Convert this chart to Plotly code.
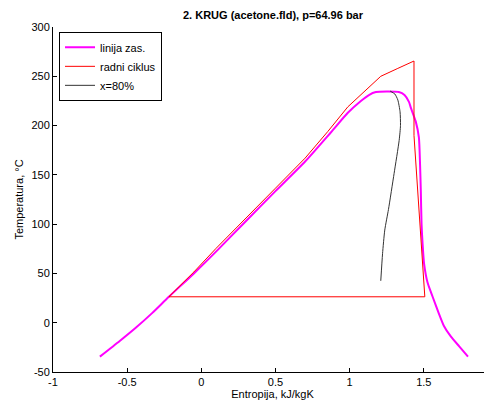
import plotly.graph_objects as go

# Saturation line (linija zas.) - liquid branch + vapour branch
sat_s = [-0.684, -0.55, -0.442, -0.33, -0.219, -0.05, 0.111, 0.3, 0.5, 0.7, 0.873, 0.988, 1.076, 1.13, 1.177,
         1.25, 1.332, 1.37, 1.40, 1.413, 1.446, 1.467, 1.475, 1.480, 1.485, 1.492, 1.502, 1.525, 1.548,
         1.559, 1.60, 1.635, 1.682, 1.739, 1.798]
sat_T = [-34.4, -18.5, -5.1, 10.0, 26.3, 50.0, 73.9, 103.0, 133.5, 163.5, 193.0, 213.0, 225.0, 231.0, 234.0,
         234.5, 234.0, 231.0, 224.0, 218.0, 204.0, 188.0, 160.0, 134.0, 100.0, 80.0, 60.0, 41.0, 31.0,
         26.6, 10.0, -3.0, -13.9, -24.0, -34.4]

# Working cycle (radni ciklus)
cyc_s = [-0.219, -0.05, 0.10, 0.30, 0.50, 0.70, 0.853, 0.988, 1.076, 1.15, 1.21, 1.325, 1.434,
         1.434, 1.507, -0.219]
cyc_T = [26.3, 51.5, 75.5, 105.5, 136.5, 167.0, 194.0, 219.0, 231.5, 242.0, 250.0, 258.0, 265.5,
         190.0, 26.3, 26.3]

# Quality line x = 80%
x80_s = [1.273, 1.305, 1.325, 1.340, 1.343, 1.334, 1.30, 1.262, 1.237, 1.222, 1.21]
x80_T = [235.0, 232.0, 226.0, 214.0, 200.0, 185.0, 151.5, 115.0, 94.0, 70.0, 42.5]

x_ticks = [-1, -0.5, 0, 0.5, 1, 1.5]
x_ticktext = ['-1', '-0.5', '0', '0.5', '1', '1.5']
y_ticks = [-50, 0, 50, 100, 150, 200, 250, 300]
y_ticktext = ['-50', '0', '50', '100', '150', '200', '250', '300']

fig = go.Figure()
fig.add_trace(go.Scatter(x=sat_s, y=sat_T, mode='lines', name='linija zas.',
                         line=dict(color='#ff00ff', width=2, shape='spline', smoothing=0.6)))
fig.add_trace(go.Scatter(x=cyc_s, y=cyc_T, mode='lines', name='radni ciklus',
                         line=dict(color='#ff0000', width=1)))
fig.add_trace(go.Scatter(x=x80_s, y=x80_T, mode='lines', name='x=80%',
                         line=dict(color='#333333', width=1, shape='spline', smoothing=0.6)))

# page body has an 8px margin, so the figure is offset by 8px right/down
font = dict(family='Liberation Sans, Arial, sans-serif', size=11, color='#000000')
fig.update_layout(
    width=492, height=403,
    margin=dict(l=45, r=8, t=19, b=39),
    paper_bgcolor='white', plot_bgcolor='white',
    font=font,
    title=dict(text='<b>2. KRUG (acetone.fld), p=64.96 bar</b>', x=265 / 492, xanchor='center',
               xref='container', y=1 - 7 / 403, yanchor='middle', font=dict(size=11)),
    showlegend=True,
    legend=dict(x=0.0137, y=0.986, xanchor='left', yanchor='top',
                bgcolor='white', bordercolor='black', borderwidth=1,
                font=dict(size=11), tracegroupgap=0),
)
fig.update_xaxes(range=[-1, 1.96], tickvals=x_ticks, ticktext=x_ticktext, automargin=False,
                 showline=True, linecolor='black', linewidth=1, mirror=False,
                 ticks='inside', ticklen=4, tickcolor='black', showgrid=False, zeroline=False,
                 tickfont=dict(size=11),
                 title=dict(text='Entropija, kJ/kgK', standoff=3, font=dict(size=11)))
fig.update_yaxes(range=[-50, 300], tickvals=y_ticks, ticktext=y_ticktext, automargin=False,
                 showline=True, linecolor='black', linewidth=1, mirror=False,
                 ticks='inside', ticklen=4, tickcolor='black', showgrid=False, zeroline=False,
                 tickfont=dict(size=11),
                 title=dict(text='Temperatura, °C', standoff=5, font=dict(size=11)))

fig.write_html('out.html')
